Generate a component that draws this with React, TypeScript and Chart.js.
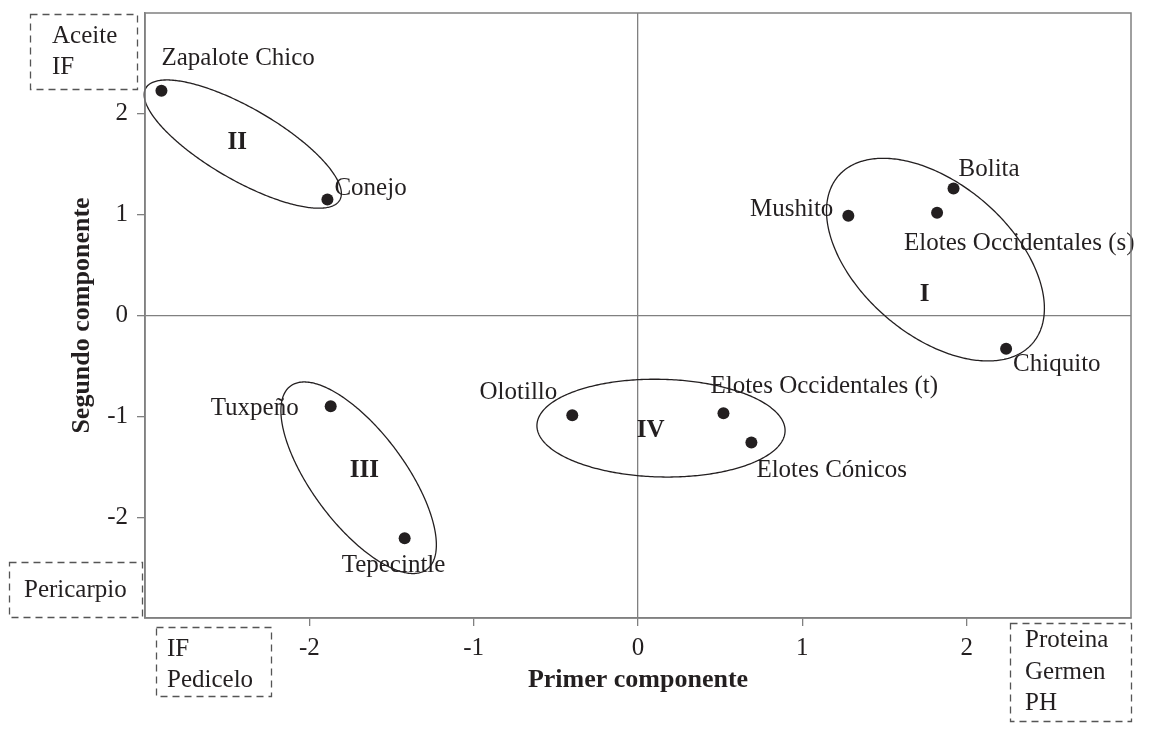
import React, { useEffect, useRef } from 'react';
import { Chart, registerables } from 'chart.js';

Chart.register(...registerables);

// ---------- data ----------
const varieties = [
  'Zapalote Chico',
  'Conejo',
  'Mushito',
  'Bolita',
  'Elotes Occidentales (s)',
  'Chiquito',
  'Olotillo',
  'Elotes Occidentales (t)',
  'Elotes Cónicos',
  'Tuxpeño',
  'Tepecintle',
];
const primerComponente = [-2.9, -1.89, 1.28, 1.92, 1.82, 2.24, -0.4, 0.52, 0.69, -1.87, -1.42];
const segundoComponente = [2.23, 1.15, 0.99, 1.26, 1.02, -0.33, -0.99, -0.97, -1.26, -0.9, -2.21];

const xTicks = [-2, -1, 0, 1, 2];
const yTicks = [-2, -1, 0, 1, 2];

const groupNames = ['I', 'II', 'III', 'IV'];
const groupLabelX = [1.744, -2.439, -1.665, 0.077];
const groupLabelY = [0.147, 1.655, -1.602, -1.206];

// ellipse: centre, half extents along each axis (data units), correlation (tilt)
const ellipseCx = [1.81, -2.405, -1.7, 0.14];
const ellipseCy = [0.554, 1.7, -1.609, -1.117];
const ellipseHalfW = [0.663, 0.6, 0.473, 0.755];
const ellipseHalfH = [1.005, 0.636, 0.95, 0.485];
const ellipseCorr = [-0.48, -0.77, -0.7, -0.05];

// ---------- styling / placement ----------
const INK = '#231f20';
const LINE = '#808080';
const FAMILY = '"Liberation Serif", "Times New Roman", serif';
const LABEL_FONT = `25px ${FAMILY}`;
const GROUP_FONT = `bold 25px ${FAMILY}`;

// label offsets in px from point: [dx, dy(baseline), align]
const labelDx = [0, 7, -15, 5, -33, 7, -15, -13, 5, -32, -63];
const labelDy = [-26, -5, 0, -12, 37, 22, -16, -20, 34, 9, 34];
const labelAlign: CanvasTextAlign[] = ['left', 'left', 'right', 'left', 'left', 'left', 'right', 'left', 'left', 'right', 'left'];

// dashed annotation boxes (canvas px)
const boxes = [
  { x0: 30, y0: 14, x1: 137, y1: 89, tx: 52, lines: ['Aceite', 'IF'], base: [43, 74] },
  { x0: 9, y0: 562, x1: 142, y1: 617, tx: 24, lines: ['Pericarpio'], base: [597] },
  { x0: 156, y0: 627, x1: 271, y1: 696, tx: 167, lines: ['IF', 'Pedicelo'], base: [656, 687] },
  { x0: 1010, y0: 623, x1: 1131, y1: 721, tx: 1025, lines: ['Proteina', 'Germen', 'PH'], base: [647, 679, 710] },
];

export default function App() {
  const ref = useRef<HTMLCanvasElement>(null);

  useEffect(() => {
    const canvas = ref.current;
    if (!canvas) return;

    const overlay = {
      id: 'overlay',
      afterDatasetsDraw(chart: any) {
        const ctx = chart.ctx as CanvasRenderingContext2D;
        const xs = chart.scales.x;
        const ys = chart.scales.y;
        ctx.save();
        // ellipses
        ctx.strokeStyle = INK;
        ctx.lineWidth = 1.3;
        for (let e = 0; e < ellipseCx.length; e++) {
          const r = ellipseCorr[e];
          const s = Math.sqrt(1 - r * r);
          ctx.beginPath();
          for (let k = 0; k <= 360; k++) {
            const t = (k * Math.PI) / 180;
            const vx = ellipseCx[e] + ellipseHalfW[e] * Math.cos(t);
            const vy = ellipseCy[e] + ellipseHalfH[e] * (r * Math.cos(t) + s * Math.sin(t));
            const px = xs.getPixelForValue(vx);
            const py = ys.getPixelForValue(vy);
            if (k === 0) ctx.moveTo(px, py);
            else ctx.lineTo(px, py);
          }
          ctx.closePath();
          ctx.stroke();
        }
        // point labels
        ctx.fillStyle = INK;
        ctx.font = LABEL_FONT;
        ctx.textBaseline = 'alphabetic';
        for (let i = 0; i < varieties.length; i++) {
          const px = xs.getPixelForValue(primerComponente[i]);
          const py = ys.getPixelForValue(segundoComponente[i]);
          ctx.textAlign = labelAlign[i];
          ctx.fillText(varieties[i], px + labelDx[i], py + labelDy[i]);
        }
        // group labels
        ctx.font = GROUP_FONT;
        ctx.textAlign = 'center';
        for (let g = 0; g < groupNames.length; g++) {
          ctx.fillText(groupNames[g], xs.getPixelForValue(groupLabelX[g]), ys.getPixelForValue(groupLabelY[g]));
        }
        ctx.restore();
      },
      afterDraw(chart: any) {
        const ctx = chart.ctx as CanvasRenderingContext2D;
        const ca = chart.chartArea;
        ctx.save();
        // frame
        ctx.strokeStyle = LINE;
        ctx.lineWidth = 1.5;
        ctx.strokeRect(ca.left, ca.top, ca.right - ca.left, ca.bottom - ca.top);
        // dashed boxes
        ctx.strokeStyle = '#555555';
        ctx.lineWidth = 1.3;
        ctx.setLineDash([7, 5]);
        ctx.fillStyle = INK;
        ctx.font = LABEL_FONT;
        ctx.textAlign = 'left';
        ctx.textBaseline = 'alphabetic';
        for (const b of boxes) {
          ctx.strokeRect(b.x0 + 0.5, b.y0 + 0.5, b.x1 - b.x0, b.y1 - b.y0);
          b.lines.forEach((ln, j) => ctx.fillText(ln, b.tx, b.base[j]));
        }
        ctx.restore();
      },
    };

    const chart = new Chart(canvas, {
      type: 'scatter',
      data: {
        datasets: [
          {
            data: varieties.map((_, i) => ({ x: primerComponente[i], y: segundoComponente[i] })),
            pointRadius: 6,
            pointHoverRadius: 6,
            backgroundColor: INK,
            borderWidth: 0,
          },
        ],
      },
      options: {
        animation: false,
        responsive: false,
        devicePixelRatio: 1,
        layout: { padding: { left: 0, top: 13, right: 20, bottom: 0 } },
        plugins: { legend: { display: false }, tooltip: { enabled: false } },
        scales: {
          x: {
            type: 'linear',
            min: -3,
            max: 3,
            afterBuildTicks: (s: any) => {
              s.ticks = xTicks.map((v) => ({ value: v }));
            },
            afterFit: (s: any) => {
              s.height = 111;
              s.paddingLeft = 0;
              s.paddingRight = 0;
              s.paddingTop = 0;
              s.paddingBottom = 0;
            },
            ticks: {
              color: INK,
              font: { family: FAMILY, size: 25 },
              padding: 7,
              callback: (v: any) => String(v),
            },
            grid: {
              drawOnChartArea: true,
              color: (c: any) => (c.tick && c.tick.value === 0 ? LINE : 'rgba(0,0,0,0)'),
              tickColor: LINE,
              tickLength: 8,
              lineWidth: 1.3,
            },
            border: { display: true, color: LINE, width: 1.5 },
            title: {
              display: true,
              text: 'Primer componente',
              color: INK,
              font: { family: FAMILY, size: 26, weight: 'bold' },
              padding: { top: 0, bottom: 33 },
            },
          },
          y: {
            type: 'linear',
            min: -3,
            max: 3,
            afterBuildTicks: (s: any) => {
              s.ticks = yTicks.map((v) => ({ value: v }));
            },
            afterFit: (s: any) => {
              s.width = 145;
              s.paddingLeft = 0;
              s.paddingRight = 0;
              s.paddingTop = 0;
              s.paddingBottom = 0;
            },
            ticks: {
              color: INK,
              font: { family: FAMILY, size: 25 },
              padding: 9,
              callback: (v: any) => String(v),
            },
            grid: {
              drawOnChartArea: true,
              color: (c: any) => (c.tick && c.tick.value === 0 ? LINE : 'rgba(0,0,0,0)'),
              tickColor: LINE,
              tickLength: 8,
              lineWidth: 1.3,
            },
            border: { display: true, color: LINE, width: 1.5 },
            title: {
              display: true,
              text: 'Segundo componente',
              color: INK,
              font: { family: FAMILY, size: 26, weight: 'bold' },
              padding: { top: 67, bottom: 0 },
            },
          },
        },
      },
      plugins: [overlay],
    } as any);

    return () => chart.destroy();
  }, []);

  return (
    <div style={{ position: 'fixed', left: 0, top: 0, width: 1151, height: 729, background: '#ffffff' }}>
      <canvas ref={ref} width={1151} height={729} style={{ display: 'block' }} />
    </div>
  );
}
